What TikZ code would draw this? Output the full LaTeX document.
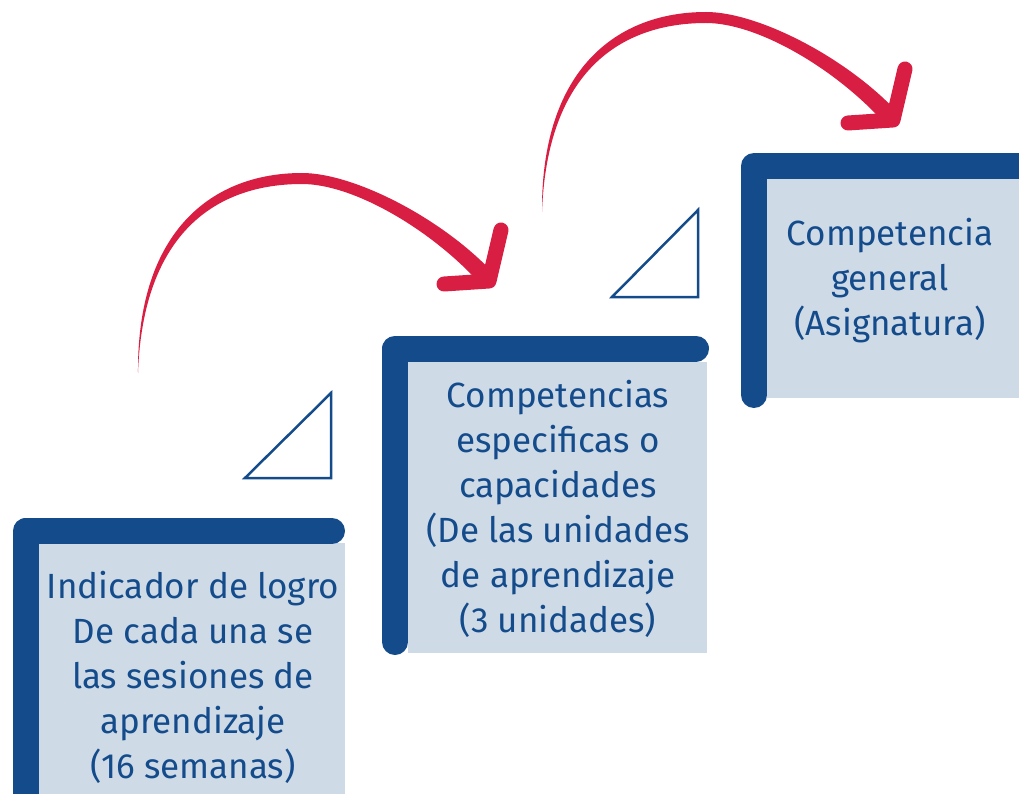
\documentclass[tikz,border=0pt]{standalone}
\usepackage{fontspec}
\setmainfont{Fira Sans}
\definecolor{bblue}{HTML}{134B8B}
\definecolor{bfill}{HTML}{CFDAE7}
\definecolor{ared}{HTML}{D81E42}
\begin{document}
\begin{tikzpicture}[x=1pt,y=-1pt,
 lbar/.style={draw=bblue,line width=26pt,line cap=round,line join=round},
 lbl/.style={text=bblue,font=\fontsize{35}{45}\selectfont,align=center,inner sep=0pt},
 tri/.style={draw=bblue,line width=2.5pt,line join=miter},
 head/.style={draw=ared,line width=15pt,line cap=round,line join=round},
 curvedarrow/.pic={
  \fill[ared] (138,373) .. controls (137,230) and (213,173) .. (302,173)
     .. controls (355,173) and (445,220) .. (495,275) -- (483,287)
     .. controls (435,232) and (355,184) .. (302,184)
     .. controls (217,184) and (143,232) .. (138,373) -- cycle;
  \draw[head] (444,284) -- (489,281) -- (501,230);
 }]
\useasboundingbox (0,0) rectangle (1019,794);

% box 1
\fill[bfill] (38,543) rectangle (345,800);
\draw[lbar] (332,531) -- (25.5,531) -- (25.5,820);
\node[lbl] (b1) at (193,677) {Indicador de logro\\De cada una se\\las sesiones de\\aprendizaje\\(16 semanas)};

% box 2
\fill[bfill] (408,362) rectangle (707,653);
\draw[lbar] (696,348.5) -- (395,348.5) -- (395,642);
\node[lbl] (b2) at (558,509) {Competencias\\especificas o\\capacidades\\(De las unidades\\de aprendizaje\\(3 unidades)};

% box 3
\fill[bfill] (767,179) rectangle (1030,398);
\draw[lbar] (1040,166) -- (754,166) -- (754,395);
\node[lbl] (b3) at (890,281) {Competencia\\general\\(Asignatura)};

% triangles
\draw[tri] (245,478) -- (331,478) -- (331,393) -- cycle;
\draw[tri] (612,297) -- (698,297) -- (698,210) -- cycle;

% arrows
\pic at (0,0) {curvedarrow};
\pic at (404,-161) {curvedarrow};
\end{tikzpicture}
\end{document}
